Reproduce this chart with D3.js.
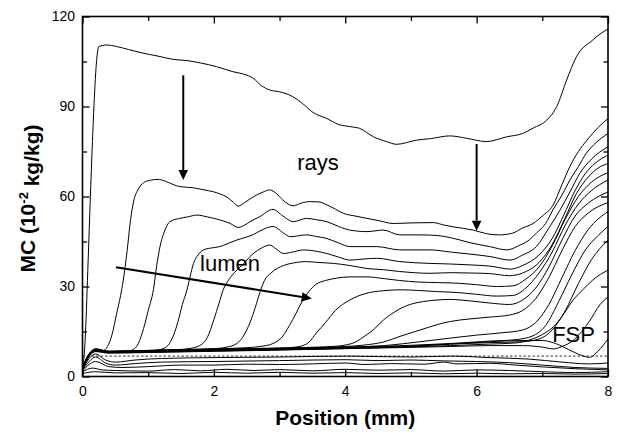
<!DOCTYPE html>
<html>
<head>
<meta charset="utf-8">
<script src="https://cdn.jsdelivr.net/npm/d3@7"></script>
<style>
  html, body { margin: 0; padding: 0; background: #fff; }
  svg { display: block; }
  text { font-family: Arial, "Liberation Sans", sans-serif; fill: #000; }
</style>
</head>
<body>
<svg id="chart" width="621" height="437"></svg>
<script>
// Moisture content profiles along the sample, MC in 10^-2 kg/kg vs position in mm.
// Each profile is a list of [position, MC] readings.
const p01 = [[0,2.5],[0.04,12],[0.08,35],[0.12,60],[0.17,88],[0.21,104],[0.25,110],[0.37,110.5],[0.52,110],[0.7,109],[0.92,107.8],[1.15,106.8],[1.38,105.7],[1.59,105.3],[1.8,104.5],[2.04,103.3],[2.29,101.6],[2.45,100.8],[2.6,99.4],[2.72,97],[2.85,95.5],[3.0,94.9],[3.2,93.3],[3.35,91],[3.51,88],[3.72,86],[3.9,84],[4.07,83.3],[4.22,82.7],[4.43,79.9],[4.63,78.3],[4.78,77.4],[5.09,78.8],[5.3,79.3],[5.59,80.2],[5.85,79.4],[6.15,78.3],[6.46,79.9],[6.7,81],[6.86,82.8],[7.07,85.5],[7.22,90],[7.37,98.8],[7.52,106.6],[7.77,112.2],[7.9,114.5],[8,115.8]];
const p02 = [[0,3],[0.1,7],[0.2,8.5],[0.3,8.5],[0.38,10],[0.45,14],[0.52,21],[0.58,27],[0.62,32],[0.68,42],[0.73,52],[0.78,58.5],[0.85,62.5],[0.93,64.6],[1.05,65.5],[1.15,65.7],[1.25,65.2],[1.38,64],[1.48,63.3],[1.69,62.9],[1.85,62.2],[1.99,61.6],[2.1,60.8],[2.2,59.8],[2.3,58],[2.37,56.8],[2.47,58],[2.6,59.9],[2.75,61.5],[2.85,62.2],[2.95,61],[3.05,58.8],[3.13,57.5],[3.21,56.9],[3.33,57.8],[3.46,58.3],[3.6,58.2],[3.72,57.2],[3.85,55.8],[3.97,54.4],[4.15,53.5],[4.33,52.7],[4.5,52],[4.73,51],[5.0,51.2],[5.34,51.3],[5.5,50.5],[5.64,49.9],[5.95,48.8],[6.15,47.6],[6.35,47.2],[6.55,47.8],[6.7,49.5],[6.86,51],[7.0,53.5],[7.16,57],[7.3,64],[7.42,70],[7.55,75],[7.68,78.8],[7.85,83],[8,86]];
const p03 = [[0,3],[0.1,7.5],[0.2,8.8],[0.4,8.2],[0.6,8.3],[0.75,8.8],[0.85,11],[0.93,16],[1.0,22],[1.08,29],[1.13,37],[1.18,43.3],[1.25,48.5],[1.33,51.6],[1.48,52.7],[1.6,53.2],[1.74,53.8],[1.9,53.2],[2.09,52.2],[2.25,51],[2.37,49.7],[2.47,50.5],[2.55,51.6],[2.7,53.3],[2.9,55.7],[3.05,53.5],[3.21,51.6],[3.41,52.7],[3.55,52.3],[3.72,51.6],[3.9,50],[4.07,48.8],[4.33,48.3],[4.58,48.8],[4.83,47.2],[5.14,47.2],[5.4,47],[5.6,46.3],[5.9,44.6],[6.2,43.3],[6.46,42.2],[6.66,43.8],[6.8,45.5],[6.91,47.8],[7.05,51],[7.16,55.5],[7.3,60.5],[7.42,65.5],[7.55,70],[7.67,74.4],[7.82,78],[8,81]];
const p04 = [[0,2.8],[0.1,7.6],[0.2,9],[0.4,8.3],[0.8,8.4],[1.1,8.7],[1.25,9.5],[1.35,12],[1.45,18],[1.52,24],[1.59,28.8],[1.64,33.5],[1.69,37.7],[1.76,40.5],[1.84,42.2],[1.95,42.8],[2.09,43.3],[2.2,44.2],[2.35,45.5],[2.5,46.5],[2.6,47.3],[2.7,48.5],[2.9,50],[3.05,48],[3.16,46.6],[3.41,47.2],[3.55,46.7],[3.72,46],[3.9,44.5],[4.07,43.3],[4.3,43.3],[4.48,43.3],[4.83,42.2],[5.29,42.2],[5.6,41.5],[5.9,40.8],[6.2,40],[6.51,38.8],[6.7,40.5],[6.91,43.3],[7.1,49.5],[7.27,55.5],[7.42,61.5],[7.57,67.7],[7.75,72.5],[8,76.6]];
const p05 = [[0,2.8],[0.1,7.5],[0.2,9.2],[0.4,8.4],[0.9,8.6],[1.4,8.9],[1.65,9.4],[1.8,10.5],[1.9,13],[2.0,19],[2.08,24.5],[2.14,28.8],[2.22,32],[2.35,35.5],[2.45,37.5],[2.55,40],[2.7,42.5],[2.85,43.8],[2.95,42.5],[3.06,41],[3.2,41.5],[3.36,42.2],[3.55,41.8],[3.72,41],[3.9,39.8],[4.07,38.8],[4.3,39.2],[4.48,39.4],[4.83,38.3],[5.29,37.7],[5.6,37.5],[5.9,37.2],[6.2,36.8],[6.52,35.8],[6.7,37],[6.95,40.5],[7.15,46],[7.32,53.5],[7.5,62],[7.65,67.5],[7.8,71],[8,73.8]];
const p06 = [[0,2.7],[0.1,7.4],[0.2,9.2],[0.4,8.4],[1.0,8.7],[1.6,9],[2.0,9.3],[2.2,9.8],[2.35,11],[2.45,13.5],[2.55,18],[2.63,23],[2.7,28],[2.77,32],[2.87,34.5],[3.06,37],[3.2,37.8],[3.41,38.3],[3.6,38],[3.82,37.7],[4.07,37],[4.33,36],[4.58,35.6],[4.83,35],[5.29,34.4],[5.6,34.6],[5.9,34.5],[6.2,34.3],[6.5,33.6],[6.7,34.5],[6.95,38],[7.15,44],[7.35,53],[7.52,61],[7.7,66.5],[7.85,69.5],[8,71]];
const p07 = [[0,2.6],[0.1,7.3],[0.2,9],[0.4,8.4],[1.0,8.7],[1.8,9.1],[2.4,9.5],[2.7,10],[2.9,11],[3.05,13.5],[3.15,17],[3.25,21],[3.33,24.5],[3.39,26.6],[3.47,29],[3.56,30.8],[3.7,32],[3.87,32.8],[4.07,33.2],[4.33,33.2],[4.6,32.6],[4.83,32],[5.1,31.5],[5.4,31.3],[5.7,31.1],[6.0,30.6],[6.3,30],[6.55,30.2],[6.75,32.5],[6.95,36.5],[7.15,43.5],[7.35,52.5],[7.55,60],[7.75,64.8],[8,68]];
const p08 = [[0,2.6],[0.1,7.2],[0.2,9],[0.4,8.3],[1,8.6],[2,9],[3,9.4],[3.3,10],[3.45,11.5],[3.56,14.5],[3.7,18],[3.85,22],[4.07,25.5],[4.3,27.6],[4.58,28.6],[4.85,28.9],[5.1,28.7],[5.4,28.3],[5.7,28],[6.0,27.4],[6.3,26.8],[6.55,27],[6.75,29.5],[6.95,34.5],[7.15,41.5],[7.35,50.5],[7.55,57.5],[7.75,62],[8,65.5]];
const p09 = [[0,2.5],[0.1,7.2],[0.2,9],[0.4,8.3],[1,8.6],[2,9.1],[3,9.5],[3.8,10],[4.1,11],[4.3,13.5],[4.45,16],[4.58,18.8],[4.75,21.5],[4.9,23.3],[5.09,24.6],[5.3,25.3],[5.59,25.7],[5.9,25.2],[6.2,24.5],[6.5,24],[6.7,25.5],[6.9,29.5],[7.1,36.5],[7.3,45.5],[7.5,53.5],[7.7,57.8],[8,61.5]];
const p10 = [[0,2.5],[0.1,7.1],[0.2,8.8],[0.4,8.2],[1,8.5],[2,9],[3,9.4],[4,10],[4.3,10.5],[4.58,11.5],[4.85,13.5],[5.14,15.5],[5.4,17.3],[5.59,18.3],[5.9,19.2],[6.2,19.8],[6.5,20.5],[6.7,22],[6.9,26],[7.1,33],[7.3,42],[7.5,50],[7.7,54.5],[8,58]];
const p11 = [[0,2.4],[0.1,7],[0.2,8.8],[0.4,8.2],[1,8.5],[2,8.9],[3,9.3],[4,9.8],[4.6,10.3],[5.14,11.6],[5.6,12.8],[6.0,13.8],[6.4,14.6],[6.7,15.5],[6.9,18],[7.1,24],[7.3,33],[7.5,42],[7.7,49],[8,55]];
const p12 = [[0,2.4],[0.1,7],[0.2,8.7],[0.4,8.1],[1,8.4],[2,8.8],[3,9.2],[4,9.7],[5,10.4],[5.6,11],[6.2,11.8],[6.6,12.3],[6.85,13.5],[7.05,17],[7.25,25],[7.45,34],[7.65,42],[7.85,47],[8,50]];
const p13 = [[0,2.3],[0.1,6.9],[0.2,8.6],[0.4,8],[1,8.3],[2,8.7],[3,9.1],[4,9.6],[5,10.2],[5.6,10.8],[6.2,11.3],[6.7,11.6],[6.95,12.5],[7.15,15.5],[7.35,22],[7.55,31],[7.75,39],[8,45.5]];
const p14 = [[0,2.3],[0.1,6.8],[0.2,8.5],[0.4,8],[1,8.2],[2,8.6],[3,9],[4,9.4],[5,9.9],[5.6,10.3],[6.2,10.8],[6.6,11.2],[6.81,12.2],[7.0,14],[7.17,16.6],[7.3,20],[7.47,25.5],[7.62,29],[7.77,32.2],[8,35.5]];
const p15 = [[0,2.2],[0.1,6.8],[0.2,8.4],[0.4,7.9],[1,8.1],[2,8.5],[3,8.9],[4,9.3],[5,9.7],[5.6,10],[6.2,10.3],[6.7,10.3],[7.0,9.8],[7.17,9.2],[7.3,10],[7.48,12.2],[7.6,15],[7.72,18.5],[7.88,24],[8,26.5]];
const p16 = [[0,2.2],[0.1,6.7],[0.2,8.3],[0.4,7.8],[1,8],[2,8.4],[3,8.8],[4,9.3],[5,10],[5.6,10.8],[6.2,11.6],[6.7,12],[7.0,12],[7.2,11],[7.4,9],[7.6,7],[7.72,6.4],[7.85,8.5],[8,12.5]];
const low1 = [[0,2.2],[0.1,6],[0.2,7.5],[0.35,5.5],[0.5,4.8],[0.8,5.5],[1.2,6],[2,6.3],[3,6.5],[4,6.8],[5,6.5],[5.6,6.8],[6.2,6.3],[6.8,5.8],[7.3,4.8],[7.7,4.2],[8,4.5]];
const low2 = [[0,2],[0.1,5],[0.2,6.5],[0.35,4.5],[0.5,3.8],[0.8,4.3],[1.2,4.8],[2,5],[3,5.3],[4,5.6],[4.5,5.3],[5,5.5],[5.5,5.2],[6,5],[6.5,4.6],[7,3.8],[7.5,3],[8,2.7]];
const low3 = [[0,1.8],[0.1,4],[0.2,5],[0.4,3.3],[0.6,3],[1,3.3],[1.5,3.8],[2,3.8],[2.5,4.1],[3,4],[3.5,4.2],[4,4.5],[4.3,4],[4.7,4.3],[5.2,4.1],[5.5,4.8],[5.7,4.2],[6.2,4.4],[6.6,3.8],[7,3.2],[7.5,2.6],[8,2.2]];
const low4 = [[0,1.5],[0.15,2.8],[0.3,2.2],[0.5,2],[1,1.8],[1.4,2.3],[1.8,1.9],[2.2,2.4],[2.6,2],[3,2.3],[3.5,1.9],[4,2.4],[4.5,2.1],[5,2.3],[5.5,1.8],[6,2.2],[6.5,2],[7,1.6],[7.5,1.3],[8,1.6]];
const low5 = [[0,1],[0.2,1.6],[0.5,1.2],[1,1.3],[1.5,1],[2,1.4],[2.5,1.1],[3,1.4],[3.5,1.1],[4,1.3],[4.5,1],[5,1.2],[5.5,0.9],[6,1.1],[6.5,0.9],[7,1],[7.5,0.8],[8,1]];

const profiles = [p01, p02, p03, p04, p05, p06, p07, p08, p09, p10, p11, p12, p13, p14, p15, p16, low1, low2, low3, low4, low5];

// Fibre saturation reference level
const fspLevel = [6.8];

// Axis ticks
const xMajor = [0, 2, 4, 6, 8];
const xMinor = [1, 3, 5, 7];
const yMajor = [0, 30, 60, 90, 120];
const yMinor = [15, 45, 75, 105];

// Annotation arrows: [x1, y1, x2, y2] in data units (tip at second point)
const arrows = [
  [1.534, 100.4, 1.534, 65.5],
  [6.0, 77.5, 6.0, 48.6],
  [0.51, 36.4, 3.49, 26.0]
];
// Annotation labels: [text, x, y] in data units (left/baseline)
const labels = [
  ["rays", 3.27, 68.8],
  ["lumen", 1.79, 35.3],
  ["FSP", 7.15, 11.4]
];

const svg = d3.select("#chart");
const L = 82.5, R = 608, T = 16.5, B = 376.5;

const x = d3.scaleLinear().domain([0, 8]).range([L, R]);
const y = d3.scaleLinear().domain([0, 120]).range([B, T]);

// Clip curves to the plotting frame
svg.append("clipPath").attr("id", "plotclip")
  .append("rect").attr("x", L).attr("y", T).attr("width", R - L).attr("height", B - T);

const plot = svg.append("g").attr("clip-path", "url(#plotclip)");

// dashed FSP line
plot.selectAll("line.fsp").data(fspLevel).join("line")
  .attr("class", "fsp")
  .attr("x1", x(0)).attr("x2", x(8))
  .attr("y1", d => y(d)).attr("y2", d => y(d))
  .attr("stroke", "#000").attr("stroke-width", 0.8)
  .attr("stroke-dasharray", "2.5,2");

const line = d3.line()
  .x(d => x(d[0]))
  .y(d => y(d[1]))
  .curve(d3.curveMonotoneX);

plot.selectAll("path.profile").data(profiles).join("path")
  .attr("class", "profile")
  .attr("d", line)
  .attr("fill", "none")
  .attr("stroke", "#000")
  .attr("stroke-width", 1)
  .attr("stroke-linejoin", "round");

// Axes: inward ticks on all four sides
function styleAxis(g) {
  g.select(".domain").remove();
  g.selectAll(".tick line").attr("stroke", "#000").attr("stroke-width", 1.3);
  g.selectAll(".tick text").style("font-size", "14px").attr("fill", "#000");
}

svg.append("g").attr("transform", `translate(0,${B})`)
  .call(d3.axisBottom(x).tickValues(xMajor).tickSize(-7).tickPadding(10).tickFormat(d3.format("d")))
  .call(styleAxis);
svg.append("g").attr("transform", `translate(0,${B})`)
  .call(d3.axisBottom(x).tickValues(xMinor).tickSize(-4.5).tickFormat(""))
  .call(styleAxis);
svg.append("g").attr("transform", `translate(0,${T})`)
  .call(d3.axisTop(x).tickValues(xMajor).tickSize(-7).tickFormat(""))
  .call(styleAxis);
svg.append("g").attr("transform", `translate(0,${T})`)
  .call(d3.axisTop(x).tickValues(xMinor).tickSize(-4.5).tickFormat(""))
  .call(styleAxis);

svg.append("g").attr("transform", `translate(${L},0)`)
  .call(d3.axisLeft(y).tickValues(yMajor).tickSize(-7).tickPadding(7.5).tickFormat(d3.format("d")))
  .call(styleAxis);
svg.append("g").attr("transform", `translate(${L},0)`)
  .call(d3.axisLeft(y).tickValues(yMinor).tickSize(-4.5).tickFormat(""))
  .call(styleAxis);
svg.append("g").attr("transform", `translate(${R},0)`)
  .call(d3.axisRight(y).tickValues(yMajor).tickSize(-7).tickFormat(""))
  .call(styleAxis);
svg.append("g").attr("transform", `translate(${R},0)`)
  .call(d3.axisRight(y).tickValues(yMinor).tickSize(-4.5).tickFormat(""))
  .call(styleAxis);

// frame
svg.append("rect")
  .attr("x", L).attr("y", T).attr("width", R - L).attr("height", B - T)
  .attr("fill", "none").attr("stroke", "#000").attr("stroke-width", 1.6);

// arrows
const head = 10, half = 4.8;
arrows.forEach(a => {
  const x1 = x(a[0]), y1 = y(a[1]), x2 = x(a[2]), y2 = y(a[3]);
  const ang = Math.atan2(y2 - y1, x2 - x1);
  const bx = x2 - head * Math.cos(ang), by = y2 - head * Math.sin(ang);
  svg.append("line")
    .attr("x1", x1).attr("y1", y1).attr("x2", bx).attr("y2", by)
    .attr("stroke", "#000").attr("stroke-width", 2);
  const px = -Math.sin(ang) * half, py = Math.cos(ang) * half;
  svg.append("path")
    .attr("d", `M${x2},${y2}L${bx + px},${by + py}L${bx - px},${by - py}Z`)
    .attr("fill", "#000");
});

svg.selectAll("text.note").data(labels).join("text")
  .attr("class", "note")
  .attr("x", d => x(d[1])).attr("y", d => y(d[2]))
  .style("font-size", "22px")
  .text(d => d[0]);

// axis titles
svg.append("text")
  .attr("x", (L + R) / 2).attr("y", 425)
  .attr("text-anchor", "middle")
  .style("font-size", "21px").style("font-weight", "bold")
  .text("Position (mm)");

const yt = svg.append("text")
  .attr("transform", `translate(35,${(T + B) / 2 + 2}) rotate(-90)`)
  .attr("text-anchor", "middle")
  .style("font-size", "21px").style("font-weight", "bold");
yt.append("tspan").text("MC (10");
yt.append("tspan").attr("dy", "-0.55em").style("font-size", "13px").text("-2");
yt.append("tspan").attr("dy", "0.55em").text(" kg/kg)");
</script>
</body>
</html>
